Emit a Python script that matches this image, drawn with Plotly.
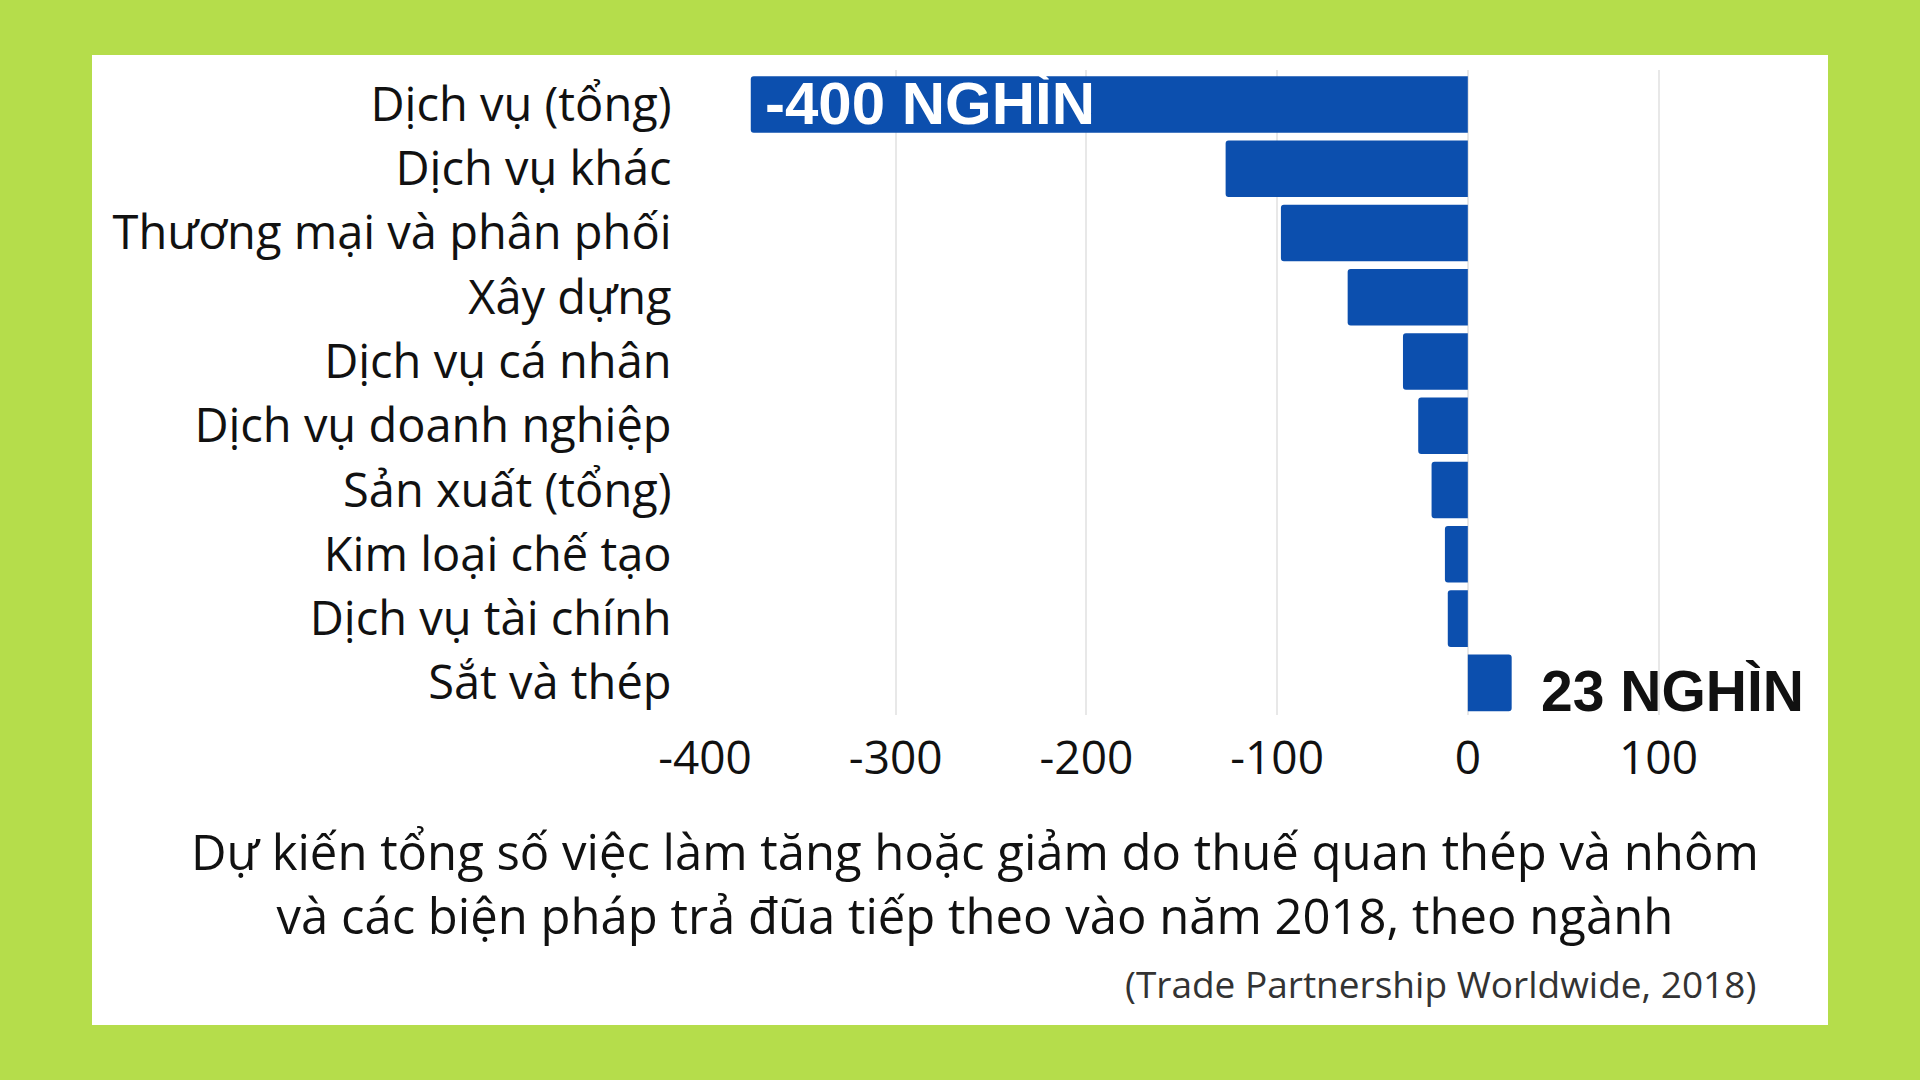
import plotly.graph_objects as go

categories = [
    "Dịch vụ (tổng)",
    "Dịch vụ khác",
    "Thương mại và phân phối",
    "Xây dựng",
    "Dịch vụ cá nhân",
    "Dịch vụ doanh nghiệp",
    "Sản xuất (tổng)",
    "Kim loại chế tạo",
    "Dịch vụ tài chính",
    "Sắt và thép",
]
values = [-376, -127, -98, -63, -34, -26, -19, -12, -10.5, 23]
tick_vals = [-400, -300, -200, -100, 0, 100]
tick_text = ["-400", "-300", "-200", "-100", "0", "100"]
label_top = "-400 NGHÌN"
label_bottom = "23 NGHÌN"
caption = "Dự kiến tổng số việc làm tăng hoặc giảm do thuế quan thép và nhôm<br>và các biện pháp trả đũa tiếp theo vào năm 2018, theo ngành"
source = "(Trade Partnership Worldwide, 2018)"

W, H = 1920, 1080
PL, PR, PT, PB = 705, 1792, 70, 715  # plot area in pixels


def px(x):
    return (x - PL) / (PR - PL)


def py(y):
    return (PB - y) / (PB - PT)


GREEN = "#b5dd4b"
BLUE = "#0c4fae"
FONT = "Open Sans"
BOLD = "Liberation Sans"

fig = go.Figure()
fig.add_trace(go.Bar(
    x=values,
    y=categories,
    orientation="h",
    marker=dict(color=BLUE, line=dict(width=0), cornerradius=3),
    hoverinfo="x+y",
))

fig.update_layout(
    width=W, height=H,
    paper_bgcolor=GREEN,
    plot_bgcolor="rgba(0,0,0,0)",
    margin=dict(l=PL, r=W - PR, t=PT, b=H - PB),
    bargap=0.12,
    showlegend=False,
    font=dict(family=FONT, color="#111111"),
    xaxis=dict(
        range=[-400, 170],
        tickvals=tick_vals,
        ticktext=tick_text,
        tickfont=dict(size=46, color="#111111", family=FONT),
        showgrid=True,
        gridcolor="#e8e8e8",
        gridwidth=1.5,
        zeroline=False,
        showline=False,
        ticks="outside",
        ticklen=3,
        tickcolor="rgba(0,0,0,0)",
        fixedrange=True,
    ),
    yaxis=dict(
        categoryorder="array",
        categoryarray=categories,
        autorange="reversed",
        tickfont=dict(size=47, color="#111111", family=FONT),
        showgrid=False,
        zeroline=False,
        showline=False,
        ticks="outside",
        ticklen=23,
        tickcolor="rgba(0,0,0,0)",
        fixedrange=True,
    ),
    shapes=[dict(
        type="rect", xref="paper", yref="paper",
        x0=px(92), x1=px(1828), y0=py(1025), y1=py(55),
        fillcolor="white", line=dict(width=0), layer="below",
    )],
)

fig.add_annotation(
    x=values[0], y=categories[0], xref="x", yref="y",
    text=label_top, showarrow=False, xanchor="left", xshift=12, yshift=1,
    font=dict(family=BOLD, size=60, color="white", weight="bold"),
)
fig.add_annotation(
    x=values[-1], y=categories[-1], xref="x", yref="y",
    text=label_bottom, showarrow=False, xanchor="left", xshift=27, yshift=-8,
    font=dict(family=BOLD, size=57, color="#111111", weight="bold"),
)
fig.add_annotation(
    x=px(975), y=py(883), xref="paper", yref="paper",
    text=caption, showarrow=False, xanchor="center", yanchor="middle",
    align="center",
    font=dict(family=FONT, size=49, color="#111111"),
)
fig.add_annotation(
    x=px(1758), y=py(983), xref="paper", yref="paper",
    text=source, showarrow=False, xanchor="right", yanchor="middle",
    font=dict(family=FONT, size=37, color="#333333"),
)

fig.write_html(
    "out.html",
    config={"displayModeBar": False},
    post_script=(
        "document.documentElement.style.margin='0';"
        "document.body.style.margin='0';"
        "document.body.style.padding='0';"
        "document.body.style.overflow='hidden';"
        "document.body.style.background='" + GREEN + "';"
    ),
)
